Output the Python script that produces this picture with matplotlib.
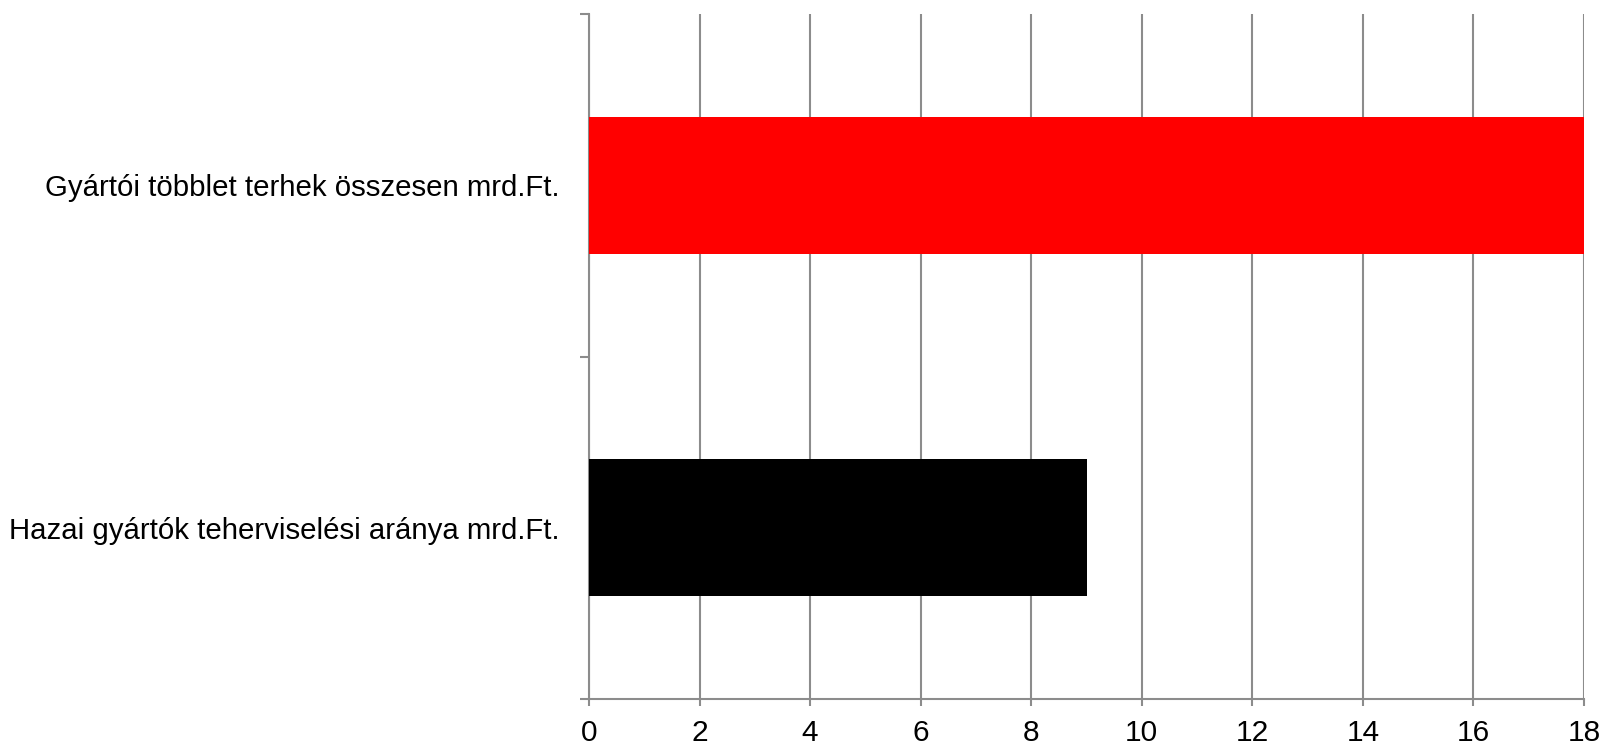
import matplotlib
matplotlib.use("Agg")
import matplotlib.pyplot as plt
from matplotlib.ticker import FixedLocator, NullFormatter

categories = ["Gyártói többlet terhek összesen mrd.Ft.",
              "Hazai gyártók teherviselési aránya mrd.Ft."]
values = [18, 9]
colors = ["#ff0000", "#000000"]
xticks = [0, 2, 4, 6, 8, 10, 12, 14, 16, 18]

plt.rcParams['font.family'] = ['Liberation Sans', 'DejaVu Sans']
grey = "#8c8c8c"

fig = plt.figure(figsize=(16.02, 7.44), dpi=100)
ax = fig.add_axes([589/1602, 45/744, (1584-589)/1602, (699-14)/744])

pos = [0.5 + i for i in range(len(categories))]
ax.barh(pos, values, height=0.4, color=colors, zorder=3)

ax.set_xlim(0, 18)
ax.set_ylim(len(categories), 0)
ax.set_xticks(xticks)
ax.set_xticklabels([str(t) for t in xticks])
ax.xaxis.grid(True, color=grey, linewidth=1.5, zorder=0)
ax.set_axisbelow(True)

ax.set_yticks(pos)
ax.set_yticklabels(categories)
ax.yaxis.set_minor_locator(FixedLocator([0, 1, 2]))
ax.yaxis.set_minor_formatter(NullFormatter())
ax.tick_params(axis='y', which='major', length=0, pad=21, labelsize=21.2, colors='black')
ax.tick_params(axis='y', which='minor', length=6.5, width=1.5, color=grey)
ax.tick_params(axis='x', which='major', length=5, width=1.5, color=grey, labelsize=21.5, pad=9.5, labelcolor='black')

for s in ['top', 'right']:
    ax.spines[s].set_visible(False)
for s in ['left', 'bottom']:
    ax.spines[s].set_color(grey)
    ax.spines[s].set_linewidth(1.5)

fig.savefig("out.png", dpi=100)
